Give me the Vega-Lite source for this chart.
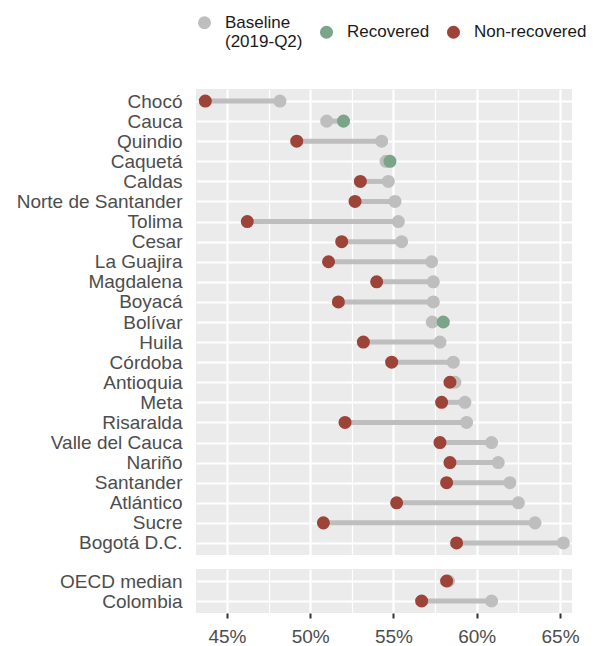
{
  "$schema": "https://vega.github.io/schema/vega-lite/v6.json",
  "background": "white",
  "padding": {"left": 16, "top": 14, "right": 5, "bottom": 5},
  "config": {
    "font": "Liberation Sans",
    "view": {"fill": "#EBEBEB", "stroke": null},
    "concat": {"spacing": 14},
    "axis": {
      "labelFont": "Liberation Sans",
      "labelColor": "#4D4D4D",
      "domain": false
    },
    "legend": {
      "labelFont": "Liberation Sans",
      "labelFontSize": 17,
      "labelColor": "#1A1A1A"
    }
  },
  "datasets": {
    "regions": [
      {"region": "Chocó", "baseline": 0.4818, "current": 0.4370, "status": "Non-recovered"},
      {"region": "Cauca", "baseline": 0.5099, "current": 0.5200, "status": "Recovered"},
      {"region": "Quindio", "baseline": 0.5429, "current": 0.4919, "status": "Non-recovered"},
      {"region": "Caquetá", "baseline": 0.5455, "current": 0.5479, "status": "Recovered"},
      {"region": "Caldas", "baseline": 0.5469, "current": 0.5301, "status": "Non-recovered"},
      {"region": "Norte de Santander", "baseline": 0.5509, "current": 0.5269, "status": "Non-recovered"},
      {"region": "Tolima", "baseline": 0.5529, "current": 0.4622, "status": "Non-recovered"},
      {"region": "Cesar", "baseline": 0.5549, "current": 0.5189, "status": "Non-recovered"},
      {"region": "La Guajira", "baseline": 0.5729, "current": 0.5110, "status": "Non-recovered"},
      {"region": "Magdalena", "baseline": 0.5739, "current": 0.5399, "status": "Non-recovered"},
      {"region": "Boyacá", "baseline": 0.5739, "current": 0.5169, "status": "Non-recovered"},
      {"region": "Bolívar", "baseline": 0.5733, "current": 0.5799, "status": "Recovered"},
      {"region": "Huila", "baseline": 0.5779, "current": 0.5319, "status": "Non-recovered"},
      {"region": "Córdoba", "baseline": 0.5859, "current": 0.5489, "status": "Non-recovered"},
      {"region": "Antioquia", "baseline": 0.5869, "current": 0.5839, "status": "Non-recovered"},
      {"region": "Meta", "baseline": 0.5929, "current": 0.5789, "status": "Non-recovered"},
      {"region": "Risaralda", "baseline": 0.5939, "current": 0.5209, "status": "Non-recovered"},
      {"region": "Valle del Cauca", "baseline": 0.6089, "current": 0.5779, "status": "Non-recovered"},
      {"region": "Nariño", "baseline": 0.6129, "current": 0.5839, "status": "Non-recovered"},
      {"region": "Santander", "baseline": 0.6199, "current": 0.5819, "status": "Non-recovered"},
      {"region": "Atlántico", "baseline": 0.6250, "current": 0.5519, "status": "Non-recovered"},
      {"region": "Sucre", "baseline": 0.6350, "current": 0.5079, "status": "Non-recovered"},
      {"region": "Bogotá D.C.", "baseline": 0.6520, "current": 0.5879, "status": "Non-recovered"}
    ],
    "aggregates": [
      {"region": "OECD median", "baseline": 0.5830, "current": 0.5819, "status": "Non-recovered"},
      {"region": "Colombia", "baseline": 0.6089, "current": 0.5669, "status": "Non-recovered"}
    ]
  },
  "vconcat": [
    {
      "width": 376,
      "height": 466,
      "data": {"name": "regions"},
      "encoding": {
        "y": {
          "field": "region",
          "type": "nominal",
          "sort": null,
          "title": null,
          "scale": {"type": "point", "padding": 0.6},
          "axis": {"ticks": false, "labelFontSize": 19, "labelPadding": 14, "grid": true, "gridColor": "white", "gridWidth": 2}
        }
      },
      "layer": [
        {
          "mark": {"type": "rule", "strokeWidth": 5, "color": "#BEBEBE"},
          "encoding": {
            "x": {
              "field": "baseline", "type": "quantitative",
              "scale": {"domain": [0.4314, 0.6572], "nice": false, "zero": false},
              "title": null,
              "axis": {
                "values": [0.45, 0.475, 0.5, 0.525, 0.55, 0.575, 0.6, 0.625, 0.65],
                "labels": false, "ticks": false,
                "grid": true, "gridColor": "white",
                "gridWidth": {"condition": {"test": "round(datum.value*40) % 2 == 1", "value": 1.2}, "value": 2.2}
              }
            },
            "x2": {"field": "current"}
          }
        },
        {
          "mark": {"type": "circle", "size": 170, "opacity": 1},
          "encoding": {
            "x": {"field": "baseline", "type": "quantitative"},
            "color": {
              "datum": "Baseline (2019-Q2)",
              "type": "nominal",
              "scale": {"domain": ["Baseline (2019-Q2)", "Recovered", "Non-recovered"], "range": ["#BEBEBE", "#7BA58A", "#9E4337"]},
              "title": null,
              "legend": {
                "orient": "top",
                "direction": "horizontal",
                "offset": 39,
                "symbolSize": 170,
                "symbolType": "circle",
                "columnPadding": 15,
                "labelOffset": 12,
                "labelExpr": "datum.label == 'Baseline (2019-Q2)' ? ['Baseline', '(2019-Q2)'] : datum.label"
              }
            }
          }
        },
        {
          "mark": {"type": "circle", "size": 170, "opacity": 1},
          "encoding": {
            "x": {"field": "current", "type": "quantitative"},
            "color": {"field": "status", "type": "nominal"}
          }
        }
      ]
    },
    {
      "width": 376,
      "height": 44,
      "data": {"name": "aggregates"},
      "encoding": {
        "y": {
          "field": "region",
          "type": "nominal",
          "sort": null,
          "title": null,
          "scale": {"type": "point", "padding": 0.6},
          "axis": {"ticks": false, "labelFontSize": 19, "labelPadding": 14, "grid": true, "gridColor": "white", "gridWidth": 2}
        }
      },
      "layer": [
        {
          "mark": {"type": "rule", "strokeWidth": 5, "color": "#BEBEBE"},
          "encoding": {
            "x": {
              "field": "baseline", "type": "quantitative",
              "scale": {"domain": [0.4314, 0.6572], "nice": false, "zero": false},
              "title": null,
              "axis": {
                "values": [0.45, 0.475, 0.5, 0.525, 0.55, 0.575, 0.6, 0.625, 0.65],
                "format": ".0%",
                "labelExpr": "round(datum.value*40) % 2 == 1 ? '' : datum.label",
                "labelFontSize": 19,
                "labelColor": "#4D4D4D",
                "labelPadding": 9,
                "tickColor": {"condition": {"test": "round(datum.value*40) % 2 == 1", "value": "transparent"}, "value": "#333333"},
                "tickSize": 5,
                "tickWidth": 2,
                "grid": true, "gridColor": "white",
                "gridWidth": {"condition": {"test": "round(datum.value*40) % 2 == 1", "value": 1.2}, "value": 2.2}
              }
            },
            "x2": {"field": "current"}
          }
        },
        {
          "mark": {"type": "circle", "size": 170, "opacity": 1},
          "encoding": {
            "x": {"field": "baseline", "type": "quantitative"},
            "color": {"datum": "Baseline (2019-Q2)", "type": "nominal"}
          }
        },
        {
          "mark": {"type": "circle", "size": 170, "opacity": 1},
          "encoding": {
            "x": {"field": "current", "type": "quantitative"},
            "color": {"field": "status", "type": "nominal"}
          }
        }
      ]
    }
  ]
}
